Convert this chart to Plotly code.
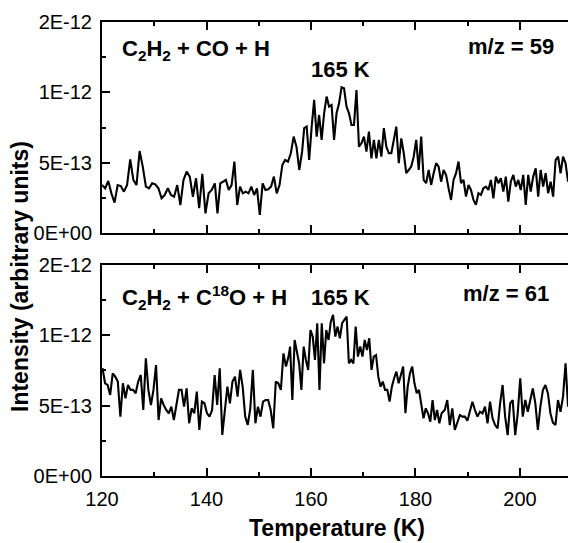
import numpy as np
import plotly.graph_objects as go

# ---- data (intensity in units of 1E-13, temperature in K) ----
# top panel: C2H2 + CO + H, m/z = 59 ; three consecutive temperature segments
top_t_ranges = [(120.0, 141.6), (142.1, 158.3), (158.7, 209.2)]
top_a = [3.41, 3.18, 3.70, 2.82, 2.16, 3.41, 3.34, 2.94, 3.41, 5.24, 3.77, 3.41, 5.83, 4.72, 3.30,
         3.18, 3.53, 3.46, 3.18, 2.47, 2.70, 3.18, 2.70, 2.58, 3.41, 1.99, 3.77, 4.36, 4.01, 2.58,
         3.89, 1.76, 4.20, 1.40, 2.82, 3.06, 3.53]
top_b = [1.40, 3.53, 3.65, 3.77, 3.06, 3.41, 5.07, 1.99, 3.30, 2.82, 2.94, 2.82, 3.30, 2.70, 3.18,
         1.28, 3.53, 3.06, 3.11, 3.30, 4.01, 2.82, 3.41, 4.84, 5.19, 5.07, 5.67, 6.85, 6.14, 4.48,
         5.78]
top_c = [7.45, 7.56, 5.19, 7.56, 9.46, 6.85, 8.39, 6.62, 8.51, 9.70, 8.99, 9.10, 6.62, 8.51, 9.22,
         10.36, 10.29, 8.99, 8.51, 7.68, 7.68, 10.17, 6.14, 6.38, 6.85, 5.79, 7.21, 5.31, 6.62, 5.31,
         6.62, 5.43, 7.45, 6.14, 5.67, 5.67, 6.62, 7.56, 4.96, 6.73, 5.67, 4.25, 4.48, 4.72, 5.43,
         6.62, 4.48, 6.85, 3.77, 3.54, 4.48, 3.42, 4.25, 4.96, 4.72, 3.65, 4.48, 4.13, 3.18, 2.35,
         3.77, 4.25, 5.08, 3.54, 3.77, 2.59, 3.42, 3.06, 2.35, 2.00, 2.83, 2.71, 3.18, 3.30, 3.06,
         3.77, 2.47, 4.01, 3.54, 3.89, 2.94, 4.01, 2.23, 3.65, 4.13, 3.30, 3.77, 3.06, 4.13, 2.00,
         4.13, 2.94, 4.01, 4.60, 2.59, 4.48, 3.30, 4.25, 2.83, 3.65, 2.59, 5.19, 5.43, 4.25, 5.43,
         4.96, 3.65]

# bottom panel: C2H2 + C18O + H, m/z = 61
bot_t_ranges = [(120.1, 155.7), (156.0, 185.0), (185.6, 209.2)]
bot_a = [7.66, 6.59, 6.47, 5.76, 7.30, 7.06, 6.71, 4.22, 6.59, 5.52, 6.47, 6.12, 6.12, 5.88, 6.71,
         7.18, 4.69, 8.37, 6.12, 5.05, 6.12, 7.89, 3.98, 5.52, 5.05, 4.69, 4.46, 4.93, 3.98, 4.93,
         6.12, 6.12, 4.93, 6.23, 3.75, 4.81, 4.46, 6.00, 3.27, 5.29, 5.17, 4.46, 4.22, 4.69, 7.18,
         5.05, 7.66, 2.92, 4.81, 6.35, 5.17, 6.71, 7.06, 5.64, 7.54, 6.35, 4.22, 3.63, 4.81, 7.54,
         3.75, 4.93, 4.22, 5.29, 5.40, 5.40, 4.69, 3.39, 6.71, 6.59, 6.12, 8.72, 7.78, 8.49]
bot_b = [9.20, 5.40, 9.67, 8.72, 8.01, 6.12, 9.20, 8.25, 7.54, 10.38, 9.91, 8.25, 10.86, 6.12, 10.86,
         8.01, 10.38, 9.67, 10.97, 11.45, 9.91, 10.62, 9.79, 10.86, 11.09, 11.33, 8.01, 8.25, 8.01,
         10.62, 8.49, 9.20, 8.49, 9.67, 8.96, 9.79, 7.54, 8.49, 8.60, 7.06, 6.35, 6.71, 6.12, 6.12,
         5.29, 6.35, 6.95, 7.42, 6.59, 7.30, 7.78, 4.46, 6.35, 7.30, 7.78, 6.59, 5.88, 6.12, 4.93,
         4.10, 4.81, 4.46, 3.86, 5.40, 3.98, 4.69, 3.75, 4.46]
bot_c = [4.69, 5.40, 3.62, 4.81, 3.27, 3.74, 4.33, 4.22, 4.22, 3.93, 4.69, 5.28, 4.69, 4.22, 4.57,
         4.45, 4.93, 3.74, 5.28, 4.10, 3.62, 3.39, 5.16, 6.47, 4.22, 2.91, 5.16, 5.40, 2.91, 4.45,
         6.94, 4.22, 5.40, 4.57, 5.40, 6.23, 5.16, 3.27, 4.93, 6.11, 6.47, 5.87, 4.45, 3.79, 3.62,
         5.40, 4.57, 5.64, 8.01, 4.93]

y_tickvals = [0, 5, 10, 15]
y_ticktext = ["0E+00", "5E-13", "1E-12", "2E-12"]
y_minor = [2.5, 7.5, 12.5]


def build(ranges, segs):
    t, v = [], []
    for (a, b), s in zip(ranges, segs):
        t.extend(np.linspace(a, b, len(s)).tolist())
        v.extend(s)
    return t, v


t_top, v_top = build(top_t_ranges, [top_a, top_b, top_c])
t_bot, v_bot = build(bot_t_ranges, [bot_a, bot_b, bot_c])

FONT = "Liberation Sans, Arial, sans-serif"
line = dict(color="black", width=2.1)

fig = go.Figure()
fig.add_trace(go.Scatter(x=t_top, y=v_top, mode="lines", line=line, xaxis="x", yaxis="y",
                         showlegend=False, hoverinfo="skip"))
fig.add_trace(go.Scatter(x=t_bot, y=v_bot, mode="lines", line=line, xaxis="x2", yaxis="y2",
                         showlegend=False, hoverinfo="skip"))

xcommon = dict(range=[120, 209.19], tick0=120, dtick=20, ticks="inside", ticklen=8, tickwidth=1.6,
               tickcolor="black", showline=True, linewidth=2, linecolor="black", mirror="ticks",
               showgrid=False, zeroline=False,
               minor=dict(tick0=120, dtick=10, ticks="inside", ticklen=4, tickwidth=1.6,
                          tickcolor="black", showgrid=False),
               tickfont=dict(family=FONT, size=20, color="black"))
ycommon = dict(range=[0, 15], tickvals=y_tickvals, ticktext=y_ticktext, ticks="inside", ticklen=8,
               tickwidth=1.6, tickcolor="black", showline=True, linewidth=2, linecolor="black",
               mirror=False, showgrid=False, zeroline=False,
               minor=dict(tickvals=y_minor, ticks="inside", ticklen=4, tickwidth=1.6,
                          tickcolor="black", showgrid=False),
               tickfont=dict(family=FONT, size=20, color="black"), ticklabelstandoff=4)
yright = dict(range=[0, 15], tickvals=y_tickvals, ticks="inside", ticklen=8, tickwidth=1.6,
              tickcolor="black", showline=False, showticklabels=False, showgrid=False,
              zeroline=False, side="right",
              minor=dict(tickvals=y_minor, ticks="inside", ticklen=4, tickwidth=1.6,
                         tickcolor="black", showgrid=False))

top_dom = [0.5352, 1.0]
bot_dom = [0.0, 0.4648]

fig.update_layout(
    width=568, height=543,
    margin=dict(l=102, r=0, t=22, b=67),
    paper_bgcolor="white", plot_bgcolor="white",
    xaxis=dict(xcommon, domain=[0, 1], anchor="y", showticklabels=False),
    yaxis=dict(ycommon, domain=top_dom, anchor="x"),
    xaxis2=dict(xcommon, domain=[0, 1], anchor="y2", showticklabels=True, ticklabelstandoff=4),
    yaxis2=dict(ycommon, domain=bot_dom, anchor="x2"),
    yaxis3=dict(yright, overlaying="y", anchor="x"),
    yaxis4=dict(yright, overlaying="y2", anchor="x2"),
)

bold = dict(family=FONT, size=22, color="black")
title_font = dict(family=FONT, size=23, color="black")
ann = [
    dict(text="<b>C<sub>2</sub>H<sub>2</sub> + CO + H</b>", xref="x", yref="y domain",
         x=123.4, y=0.865, xanchor="left", yanchor="middle"),
    dict(text="<b>165 K</b>", xref="x", yref="y domain", x=165.6, y=0.775,
         xanchor="center", yanchor="middle"),
    dict(text="<b>m/z = 59</b>", xref="x", yref="y domain", x=206.9, y=0.885,
         xanchor="right", yanchor="middle"),
    dict(text="<b>C<sub>2</sub>H<sub>2</sub> + C<sup>18</sup>O + H</b>", xref="x2", yref="y2 domain",
         x=123.4, y=0.845, xanchor="left", yanchor="middle"),
    dict(text="<b>165 K</b>", xref="x2", yref="y2 domain", x=165.6, y=0.848,
         xanchor="center", yanchor="middle"),
    dict(text="<b>m/z = 61</b>", xref="x2", yref="y2 domain", x=206.0, y=0.865,
         xanchor="right", yanchor="middle"),
    dict(text="<b>Intensity (arbitrary units)</b>", xref="paper", yref="paper",
         x=-0.176, y=0.4405, textangle=-90, xanchor="center", yanchor="middle",
         font=title_font),
    dict(text="<b>Temperature (K)</b>", xref="paper", yref="paper",
         x=0.504, y=-0.1145, xanchor="center", yanchor="middle",
         font=title_font),
]
for a in ann:
    a.setdefault("font", bold)
    a["showarrow"] = False
fig.update_layout(annotations=ann)

fig.write_html("out.html")
